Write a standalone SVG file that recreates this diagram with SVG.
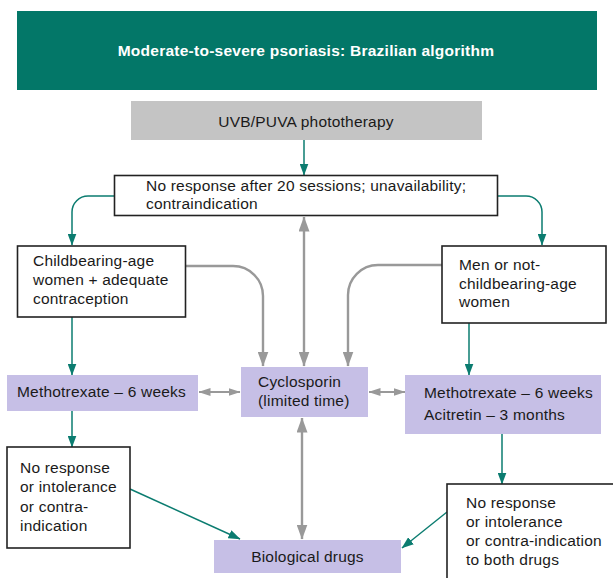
<svg xmlns="http://www.w3.org/2000/svg" width="613" height="578" viewBox="0 0 613 578">
<style>
text{font-family:"Liberation Sans",Arial,Helvetica,sans-serif;font-size:15.5px;fill:#1a1a1a;letter-spacing:0.2px}
.title{font-weight:bold;fill:#ffffff;letter-spacing:0.25px;text-anchor:middle}
.mid{text-anchor:middle}
.wbox{fill:#ffffff;stroke:#222222;stroke-width:1.6}
.lav{fill:#c6bfe6}
.teal{fill:none;stroke:#0b7c70;stroke-width:1.5}
.gray{fill:none;stroke:#999999;stroke-width:2.4}
.grayh{fill:none;stroke:#999999;stroke-width:1.8}
</style>
<defs>
<marker id="aT" markerUnits="userSpaceOnUse" markerWidth="12" markerHeight="9" refX="11.5" refY="4.5" orient="auto">
<path d="M0,0 L12,4.5 L0,9 z" fill="#0b7c70"/>
</marker>
<marker id="aG" markerUnits="userSpaceOnUse" markerWidth="15" markerHeight="11" refX="14.5" refY="5.5" orient="auto-start-reverse">
<path d="M0,0 L15,5.5 L0,11 z" fill="#999999"/>
</marker>
<marker id="aGs" markerUnits="userSpaceOnUse" markerWidth="12" markerHeight="8" refX="11.5" refY="4" orient="auto-start-reverse">
<path d="M0,0 L12,4 L0,8 z" fill="#999999"/>
</marker>
</defs>
<rect width="613" height="578" fill="#ffffff"/>

<g id="connectors">
<path class="teal" d="M304 140 V175" marker-end="url(#aT)"/>
<path class="teal" d="M114 196 H88 A16 16 0 0 0 72 212 V245" marker-end="url(#aT)"/>
<path class="teal" d="M498 196 H526 A16 16 0 0 1 542 212 V245" marker-end="url(#aT)"/>
<path class="teal" d="M72 317 V375" marker-end="url(#aT)"/>
<path class="teal" d="M469 323 V375" marker-end="url(#aT)"/>
<path class="teal" d="M72 411 V447" marker-end="url(#aT)"/>
<path class="teal" d="M502 434 V484" marker-end="url(#aT)"/>
<path class="teal" d="M130 489 L240 539" marker-end="url(#aT)"/>
<path class="teal" d="M447 512 L402 548" marker-end="url(#aT)"/>
<path class="gray" d="M186 266 H233 A30 30 0 0 1 263 296 V366" marker-end="url(#aG)"/>
<path class="gray" d="M442 265 H378 A30 30 0 0 0 348 295 V366" marker-end="url(#aG)"/>
<path class="gray" d="M304 217 V366" marker-start="url(#aG)" marker-end="url(#aG)"/>
<path class="gray" d="M302 418 V539" marker-start="url(#aG)" marker-end="url(#aG)"/>
<path class="grayh" d="M199 392 H240" marker-start="url(#aGs)" marker-end="url(#aGs)"/>
<path class="grayh" d="M369 392 H405" marker-start="url(#aGs)" marker-end="url(#aGs)"/>
</g>

<g id="header">
<rect x="17" y="11" width="580" height="79" fill="#037768"/>
<text class="title" x="306" y="56">Moderate-to-severe psoriasis: Brazilian algorithm</text>
</g>

<g id="phototherapy">
<rect x="131" y="101" width="351" height="39" fill="#c4c4c4"/>
<text class="mid" x="306" y="127">UVB/PUVA phototherapy</text>
</g>

<g id="no-response-20">
<rect class="wbox" x="114.5" y="175.5" width="383" height="40"/>
<text x="146" y="190.5">No response after 20 sessions; unavailability;</text>
<text x="146" y="209">contraindication</text>
</g>

<g id="childbearing">
<rect class="wbox" x="17.5" y="246" width="168" height="71"/>
<text x="33" y="266">Childbearing-age</text>
<text x="33" y="285">women + adequate</text>
<text x="33" y="304">contraception</text>
</g>

<g id="men">
<rect class="wbox" x="442" y="246" width="164" height="77"/>
<text x="459" y="270">Men or not-</text>
<text x="459" y="289">childbearing-age</text>
<text x="459" y="307">women</text>
</g>

<g id="methotrexate-left">
<rect class="lav" x="7" y="375" width="191" height="36"/>
<text x="17" y="397">Methotrexate – 6 weeks</text>
</g>

<g id="cyclosporin">
<rect class="lav" x="241" y="367" width="127" height="50"/>
<text x="258" y="387">Cyclosporin</text>
<text x="258" y="406">(limited time)</text>
</g>

<g id="methotrexate-acitretin">
<rect class="lav" x="405" y="375" width="196" height="59"/>
<text x="424" y="398">Methotrexate – 6 weeks</text>
<text x="424" y="420">Acitretin – 3 months</text>
</g>

<g id="no-response-left">
<rect class="wbox" x="7" y="447" width="123" height="101"/>
<text x="20" y="473">No response</text>
<text x="20" y="492">or intolerance</text>
<text x="20" y="512">or contra-</text>
<text x="20" y="531">indication</text>
</g>

<g id="biological">
<rect class="lav" x="214" y="540" width="187" height="33"/>
<text class="mid" x="307.5" y="562">Biological drugs</text>
</g>

<g id="no-response-right">
<rect class="wbox" x="447" y="484" width="180" height="110"/>
<text x="466" y="508">No response</text>
<text x="466" y="527">or intolerance</text>
<text x="466" y="546">or contra-indication</text>
<text x="466" y="565">to both drugs</text>
</g>
</svg>
